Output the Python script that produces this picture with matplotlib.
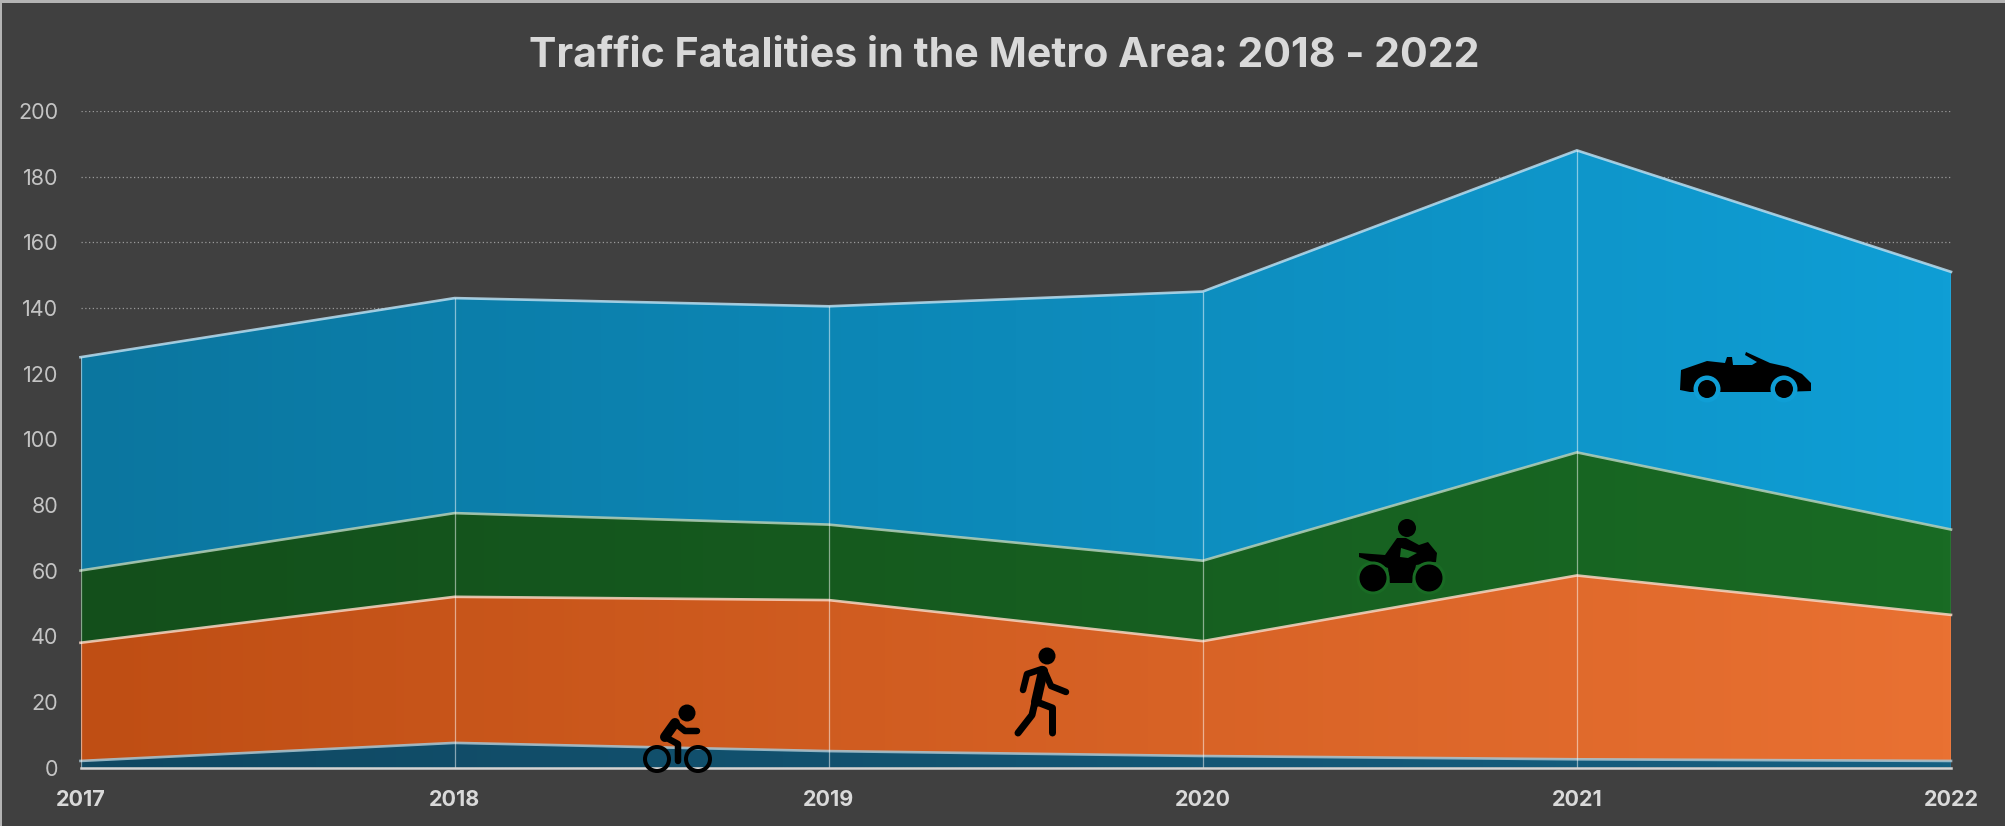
import numpy as np
import matplotlib
matplotlib.use("Agg")
import matplotlib.pyplot as plt
from matplotlib.colors import to_rgb, LinearSegmentedColormap
from matplotlib.patches import Ellipse, Polygon, Rectangle

years = [2017, 2018, 2019, 2020, 2021, 2022]
yticks = [0, 20, 40, 60, 80, 100, 120, 140, 160, 180, 200]
bicycle = [2, 7.5, 5, 3.5, 2.5, 2]
pedestrian = [36, 44.5, 46, 35, 56, 44.5]
motorcycle = [22, 25.5, 23, 24.5, 37.5, 26]
vehicle = [65, 65.5, 66.5, 82, 92, 78.5]
series = [bicycle, pedestrian, motorcycle, vehicle]
title = "Traffic Fatalities in the Metro Area: 2018 - 2022"

dark = ["#104862", "#BF4E14", "#134F1B", "#0B769F"]
full = ["#156082", "#E97132", "#196B24", "#0F9ED5"]
edge = ["#a9c6d3", "#f8d5c3", "#b5cfb8", "#b9dcee"]

BG = "#404040"
W, H = 2005, 826
L, R, T, B = 80.5, 1951, 111, 767.5
plt.rcParams["font.family"] = ["Inter", "DejaVu Sans"]

fig = plt.figure(figsize=(W / 100, H / 100), dpi=100, facecolor=BG)
ax = fig.add_axes([L / W, 1 - B / H, (R - L) / W, (B - T) / H], facecolor=BG)

polys = ax.stackplot(years, *series, colors=full, linewidth=0, zorder=2)
ax.set_xlim(years[0], years[-1])
ax.set_ylim(0, 200)
tops = np.cumsum(np.array(series, dtype=float), axis=0)
for poly, c0, c1, ec, top in zip(polys, dark, full, edge, tops):
    cm = LinearSegmentedColormap.from_list("g", [to_rgb(c0), to_rgb(c1)])
    im = ax.imshow(np.linspace(0, 1, 512).reshape(1, -1), cmap=cm, aspect="auto",
                   extent=[years[0], years[-1], 0, 200], zorder=2.1, interpolation="bilinear")
    im.set_clip_path(poly.get_paths()[0], ax.transData)
    ax.plot(years, top, color=ec, lw=1.9, alpha=0.85, zorder=3,
            solid_joinstyle="miter", clip_on=False)
ax.set_xlim(years[0], years[-1])
ax.set_ylim(0, 200)

ax.vlines(years, 0, tops[-1], color="#ffffff", alpha=0.5, lw=0.9, zorder=3)
ax.set_yticks(yticks)
ax.set_xticks(years)
ax.grid(axis="y", color="#9a9a9a", lw=0.9, ls=(0, (1, 2)), zorder=1)
ax.set_axisbelow(True)
for s in ["top", "left", "right"]:
    ax.spines[s].set_visible(False)
ax.spines["bottom"].set_color("#d4d4d4")
ax.spines["bottom"].set_linewidth(1.8)
ax.spines["bottom"].set_zorder(4)
ax.tick_params(axis="y", length=0, pad=16, labelsize=15.5, labelcolor="#c4c4c4")
ax.tick_params(axis="x", length=0, pad=16.5, labelsize=15.5, labelcolor="#d9d9d9")
for t in ax.get_xticklabels():
    t.set_fontweight("bold")

fig.text((531 + 1478) / 2 / W, 1 - 56 / H, title, ha="center", va="center",
         color="#d9d9d9", fontsize=29.6, fontweight="bold")

# Pixel-space overlay for the frame and the pictograms
ov = fig.add_axes([0, 0, 1, 1], facecolor="none", zorder=10)
ov.set_xlim(0, W)
ov.set_ylim(H, 0)
ov.axis("off")
ov.add_patch(Rectangle((0, 0), W, 2.5, color="#b4b4b4", lw=0))
ov.add_patch(Rectangle((0, 0), 2.5, H, color="#b4b4b4", lw=0))
K = "black"
PX = 0.72


def stroke(pts, w):
    xs, ys = zip(*pts)
    ov.plot(xs, ys, color=K, lw=w * PX, solid_capstyle="round", solid_joinstyle="round")


def disc(x, y, r, fc=K, ec="none", lw=0):
    ov.add_patch(Ellipse((x, y), 2 * r, 2 * r, fc=fc, ec=ec, lw=lw * PX))


# Cyclist
disc(687, 713, 8.5)
stroke([(675, 723), (665, 737)], 10)
stroke([(675, 723), (685, 731), (697, 731)], 6.5)
stroke([(665, 737), (678, 744), (678, 761)], 6.5)
disc(657, 759, 12, fc="none", ec=K, lw=4)
disc(698, 759, 12, fc="none", ec=K, lw=4)

# Pedestrian
disc(1047, 656, 8.5)
stroke([(1043, 671), (1036, 702)], 10)
stroke([(1042, 669), (1027, 674), (1023, 690)], 6.5)
stroke([(1044, 670), (1051, 686), (1066, 692)], 6.5)
stroke([(1035, 702), (1032, 715), (1018, 733)], 7)
stroke([(1037, 702), (1052.5, 708), (1052.5, 733)], 7)

# Motorcycle
green = "#196B24"
ov.add_patch(Polygon([(1359, 553), (1385, 555), (1397, 538), (1406, 538), (1419, 545),
                      (1428, 542), (1437, 553), (1436, 562), (1416, 565), (1412, 583),
                      (1390, 583), (1388, 568), (1359, 557)], fc=K, ec="none"))
ov.add_patch(Polygon([(1401, 548), (1417, 553), (1408, 558), (1400, 557)], fc=green, ec="none"))
disc(1373, 578, 16.5, fc=green)
disc(1429, 578, 16.5, fc=green)
disc(1373, 578, 13.5)
disc(1429, 578, 13.5)
disc(1407, 528, 9)

# Convertible
blue = "#0F9ED5"
ov.add_patch(Polygon([(1680, 390), (1681, 370), (1707, 361), (1725, 363), (1727, 357),
                      (1732, 357), (1733, 365), (1752, 365), (1757, 362), (1745, 355),
                      (1746, 352), (1770, 363), (1788, 367), (1802, 374), (1811, 383),
                      (1811, 391), (1780, 392), (1690, 392)], fc=K, ec="none"))
disc(1707, 389, 13.5, fc=blue)
disc(1784, 389, 13.5, fc=blue)
disc(1707, 389, 9)
disc(1784, 389, 9)

fig.savefig("out.png", dpi=100, facecolor=BG)
